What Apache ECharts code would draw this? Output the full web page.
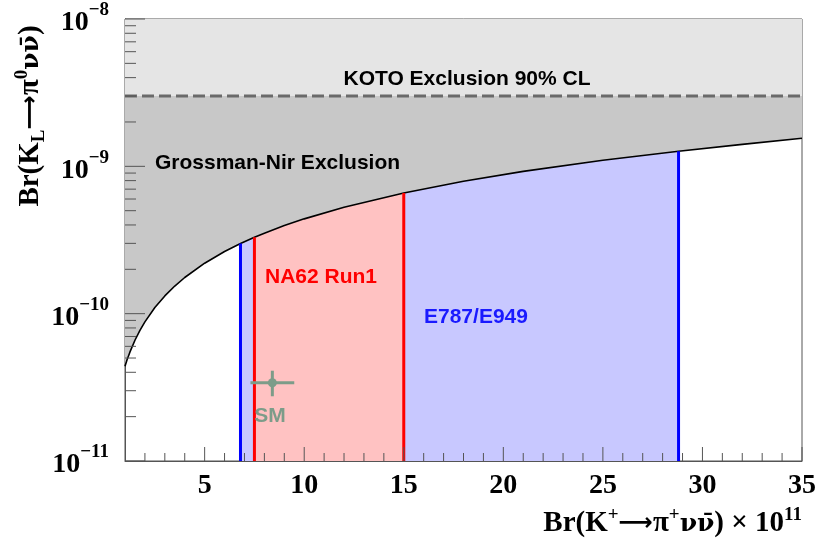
<!DOCTYPE html>
<html>
<head>
<meta charset="utf-8">
<script src="https://cdn.jsdelivr.net/npm/echarts@6/dist/echarts.min.js"></script>
<style>html,body{margin:0;padding:0;background:#fff}#c{width:824px;height:541px}</style>
</head>
<body>
<div id="c"></div>
<script>
// ---- data ----
const xRange = [1, 35];
const yRange = [1e-11, 1e-8];
// Grossman-Nir bound curve (x in 1e-11 units, y = Br(KL))
const curveX = [1, 1.1, 1.25, 1.5, 1.75, 2, 2.5, 3, 3.5, 4, 5, 6, 6.8, 7.5, 8, 9, 10, 12, 15, 18, 21, 25, 28.8, 32, 35];
const curveY = [4.4e-11, 4.85e-11, 5.5e-11, 6.6e-11, 7.7e-11, 8.8e-11, 1.1e-10, 1.32e-10, 1.54e-10, 1.76e-10, 2.2e-10, 2.64e-10, 2.99e-10, 3.3e-10, 3.52e-10, 3.96e-10, 4.4e-10, 5.28e-10, 6.6e-10, 7.92e-10, 9.24e-10, 1.1e-9, 1.267e-9, 1.41e-9, 1.55e-9];
const kotoLimit = 3.0e-9;
const e787Band = [6.8, 28.8];
const na62Band = [7.5, 15.0];
const smX = 8.4, smXErr = [7.3, 9.5];
const smY = 3.4e-11, smYErr = [2.75e-11, 4.1e-11];
// tick positions
const xMajorTicks = [5, 10, 15, 20, 25, 30, 35];
const xMinorTicks = [2, 3, 4, 6, 7, 8, 9, 11, 12, 13, 14, 16, 17, 18, 19, 21, 22, 23, 24, 26, 27, 28, 29, 31, 32, 33, 34];
const yMajorTicks = [1e-11, 1e-10, 1e-9, 1e-8];
const yMinorTicks = [2e-11, 3e-11, 4e-11, 5e-11, 6e-11, 7e-11, 8e-11, 9e-11,
  2e-10, 3e-10, 4e-10, 5e-10, 6e-10, 7e-10, 8e-10, 9e-10,
  2e-9, 3e-9, 4e-9, 5e-9, 6e-9, 7e-9, 8e-9, 9e-9];

// ---- build ----
const curve = curveX.map((x, i) => [x, curveY[i]]);
const curveAt = x => curveY[curveX.indexOf(x)];
const inBand = b => curve.filter(p => p[0] >= b[0] - 1e-9 && p[0] <= b[1] + 1e-9);

const SERIF = '"Liberation Serif", "DejaVu Serif", serif';
const SANS = '"Liberation Sans", Arial, sans-serif';
const SMCOL = '#7d9c89';

function tickSeries(vals, axis, len) {
  return {
    type: 'custom', z: 30, silent: true, clip: false,
    data: vals.map(v => axis === 'x' ? [v, yRange[0]] : [xRange[0], v]),
    renderItem: (p, api) => {
      const pt = api.coord([api.value(0), api.value(1)]);
      const shape = axis === 'x'
        ? { x1: pt[0], y1: pt[1], x2: pt[0], y2: pt[1] - len }
        : { x1: pt[0], y1: pt[1], x2: pt[0] + len, y2: pt[1] };
      return { type: 'line', shape, style: { stroke: '#555', lineWidth: 1 } };
    }
  };
}
function vline(x, color) {
  return {
    type: 'line', z: 12, silent: true, symbol: 'none',
    data: [[x, yRange[0]], [x, curveAt(x)]],
    lineStyle: { color, width: 3 }
  };
}
const titleRich = {
  b: { fontFamily: SERIF, fontWeight: 'bold', fontSize: 29, lineHeight: 36, verticalAlign: 'middle', fill: '#000' },
  a: { fontFamily: '"DejaVu Sans", sans-serif', fontWeight: 'bold', fontSize: 24, lineHeight: 36, verticalAlign: 'middle', fill: '#000' },
  n: { fontFamily: '"DejaVu Serif", serif', fontWeight: 'bold', fontSize: 25, lineHeight: 36, verticalAlign: 'middle', fill: '#000' },
  s: { fontFamily: SERIF, fontWeight: 'bold', fontSize: 19, lineHeight: 36, verticalAlign: 'top', fill: '#000' },
  d: { fontFamily: SERIF, fontWeight: 'bold', fontSize: 19, lineHeight: 36, verticalAlign: 'bottom', fill: '#000' }
};

const chart = echarts.init(document.getElementById('c'), null, { renderer: 'canvas' });
chart.setOption({
  animation: false,
  backgroundColor: '#fff',
  grid: { left: 125, right: 22, top: 19, bottom: 80, show: true, borderColor: '#555', borderWidth: 1, backgroundColor: 'transparent' },
  xAxis: {
    type: 'value', min: xRange[0], max: xRange[1], interval: 1,
    axisLine: { show: true, onZero: false, lineStyle: { color: '#555', width: 1 } },
    axisTick: { show: false }, splitLine: { show: false },
    axisLabel: {
      margin: 11, color: '#000', fontFamily: SERIF, fontWeight: 'bold', fontSize: 28,
      formatter: v => (v % 5 === 0 ? String(v) : ''), showMinLabel: true, showMaxLabel: true
    }
  },
  yAxis: {
    type: 'log', logBase: 10, min: yRange[0], max: yRange[1], splitNumber: 3,
    axisLine: { show: true, lineStyle: { color: '#555', width: 1 } },
    axisTick: { show: false }, splitLine: { show: false }, minorTick: { show: false },
    axisLabel: {
      margin: 16, color: '#000',
      formatter: v => '{b|10}{s|\u2212' + Math.round(-Math.log10(v)) + '}',
      rich: {
        b: { fontFamily: SERIF, fontWeight: 'bold', fontSize: 28, lineHeight: 36, verticalAlign: 'bottom' },
        s: { fontFamily: SERIF, fontWeight: 'bold', fontSize: 19, lineHeight: 36, verticalAlign: 'top' }
      }
    }
  },
  series: [
    { type: 'line', z: 2, silent: true, symbol: 'none', data: curve,
      lineStyle: { width: 0 }, areaStyle: { color: '#c8c8c8', opacity: 1, origin: 'end' } },
    { type: 'line', z: 3, silent: true, symbol: 'none', data: [[xRange[0], kotoLimit], [xRange[1], kotoLimit]],
      lineStyle: { width: 0 }, areaStyle: { color: '#e5e5e5', opacity: 1, origin: 'end' } },
    { type: 'line', z: 4, silent: true, symbol: 'none', data: inBand(e787Band),
      lineStyle: { width: 0 }, areaStyle: { color: '#c8c8ff', opacity: 1, origin: 'start' } },
    { type: 'line', z: 5, silent: true, symbol: 'none', data: inBand(na62Band),
      lineStyle: { width: 0 }, areaStyle: { color: '#ffc2c2', opacity: 1, origin: 'start' } },
    { type: 'line', z: 10, silent: true, symbol: 'none', data: [[xRange[0], kotoLimit], [xRange[1], kotoLimit]],
      lineStyle: { color: '#6a6a6a', width: 3, type: [12, 5] } },
    { type: 'line', z: 11, silent: true, symbol: 'none', data: curve,
      lineStyle: { color: '#000', width: 1.6 } },
    vline(e787Band[0], '#0000ff'), vline(e787Band[1], '#0000ff'),
    vline(na62Band[0], '#ff0000'), vline(na62Band[1], '#ff0000'),
    { type: 'custom', z: 15, silent: true,
      data: [[smX, smY, smXErr[0], smXErr[1], smYErr[0], smYErr[1]]],
      renderItem: (p, api) => {
        const c = api.coord([api.value(0), api.value(1)]);
        const xl = api.coord([api.value(2), api.value(1)]);
        const xh = api.coord([api.value(3), api.value(1)]);
        const yl = api.coord([api.value(0), api.value(4)]);
        const yh = api.coord([api.value(0), api.value(5)]);
        const st = { stroke: SMCOL, lineWidth: 3 };
        return { type: 'group', children: [
          { type: 'line', shape: { x1: xl[0], y1: xl[1], x2: xh[0], y2: xh[1] }, style: st },
          { type: 'line', shape: { x1: yl[0], y1: yl[1], x2: yh[0], y2: yh[1] }, style: st },
          { type: 'circle', shape: { cx: c[0], cy: c[1], r: 4.5 }, style: { fill: SMCOL } }
        ] };
      } },
    tickSeries(xMajorTicks, 'x', 14), tickSeries(xMinorTicks, 'x', 8),
    tickSeries(yMajorTicks, 'y', 20), tickSeries(yMinorTicks, 'y', 11)
  ],
  graphic: [
    { type: 'text', z: 50, x: 467, y: 79, style: { text: 'KOTO Exclusion 90% CL', fill: '#000', font: 'bold 21px ' + SANS, textAlign: 'center', textVerticalAlign: 'middle' } },
    { type: 'text', z: 50, x: 155, y: 163, style: { text: 'Grossman-Nir Exclusion', fill: '#000', font: 'bold 21px ' + SANS, textAlign: 'left', textVerticalAlign: 'middle' } },
    { type: 'text', z: 50, x: 265, y: 277, style: { text: 'NA62 Run1', fill: '#ff0000', font: 'bold 21px ' + SANS, textAlign: 'left', textVerticalAlign: 'middle' } },
    { type: 'text', z: 50, x: 424, y: 317, style: { text: 'E787/E949', fill: '#1a1aff', font: 'bold 21px ' + SANS, textAlign: 'left', textVerticalAlign: 'middle' } },
    { type: 'text', z: 50, x: 270, y: 416, style: { text: 'SM', fill: SMCOL, font: 'bold 21px ' + SANS, textAlign: 'center', textVerticalAlign: 'middle' } },
    { type: 'text', z: 50, x: 802, y: 524, style: {
        text: '{b|Br(K}{s|+}{a|\u27f6}{b|\u03c0}{s|+}{n|\u03bd\u03bd\u0304}{b|) \u00d7 10}{s|11}',
        textAlign: 'right', textVerticalAlign: 'middle', rich: titleRich } },
    { type: 'text', z: 50, x: 31, y: 116, rotation: Math.PI / 2, style: {
        text: '{b|Br(K}{d|L}{a|\u27f6}{b|\u03c0}{s|0}{n|\u03bd\u03bd\u0304}{b|)}',
        textAlign: 'center', textVerticalAlign: 'middle', rich: titleRich } }
  ]
});
</script>
</body>
</html>
